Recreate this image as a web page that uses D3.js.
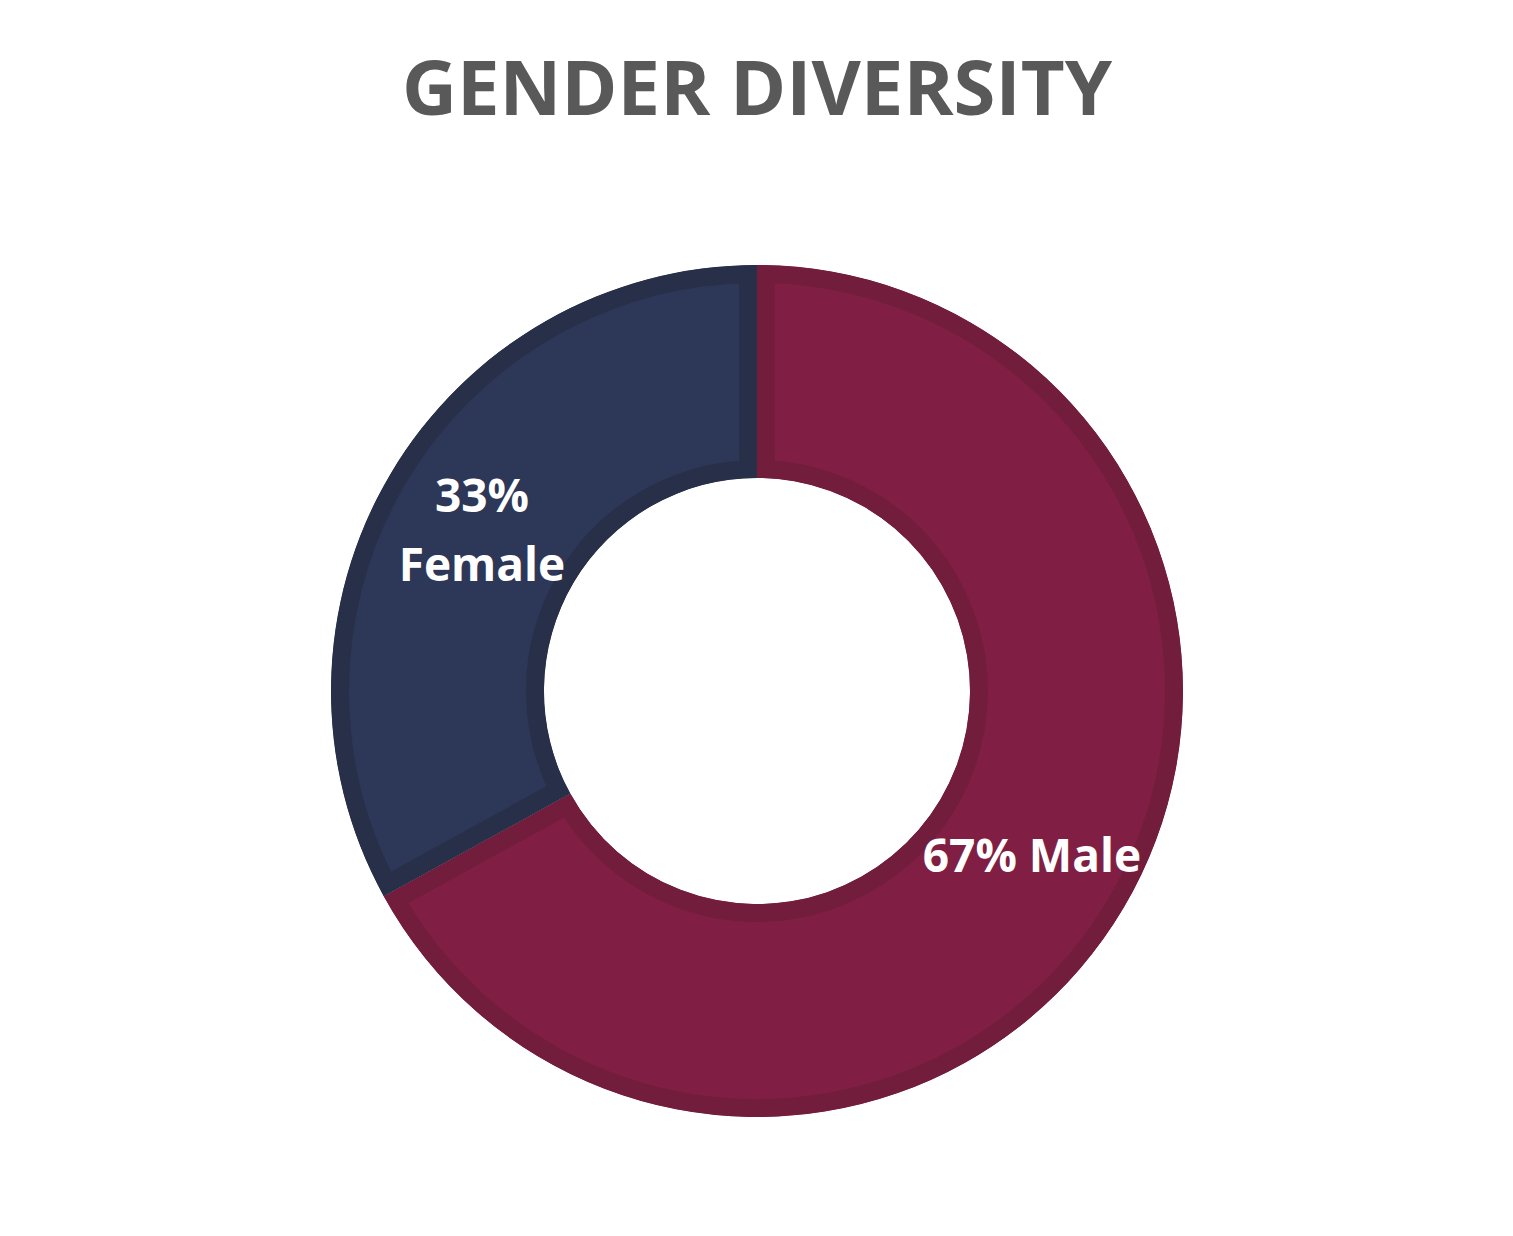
<!DOCTYPE html>
<html>
<head>
<meta charset="utf-8">
<script src="https://cdn.jsdelivr.net/npm/d3@7"></script>
<style>
  html, body { margin: 0; padding: 0; background: #fff; }
  svg { display: block; }
</style>
</head>
<body>
<svg id="chart" width="1513" height="1236"></svg>
<script>
const title = "GENDER DIVERSITY";
const categories = ["Male", "Female"];
const values = [67, 33];
const labelLines = [["67% Male"], ["33%", "Female"]];

const fills = { Male: "#801f43", Female: "#2d3757" };
const borders = { Male: "#731d3c", Female: "#283049" };

const width = 1513, height = 1236;
const cx = 757, cy = 691;
const outerR = 426, innerR = 213;
const borderW = 18;

const svg = d3.select("#chart");

svg.append("text")
  .attr("x", 757)
  .attr("y", 115)
  .attr("text-anchor", "middle")
  .style("font-family", "'Open Sans', sans-serif")
  .style("font-weight", 700)
  .style("font-size", "76px")
  .style("fill", "#595959")
  .text(title);

const data = categories.map((c, i) => ({ name: c, value: values[i], lines: labelLines[i] }));

const pie = d3.pie().sort(null).value((d) => d.value);
const arc = d3.arc().innerRadius(innerR).outerRadius(outerR);
const arcs = pie(data);

// clip each slice to itself so the darker border sits inside the edge
const defs = svg.append("defs");
defs.selectAll("clipPath")
  .data(arcs)
  .join("clipPath")
  .attr("id", (d, i) => `clip_${i}`)
  .append("path")
  .attr("d", arc);

const g = svg.append("g").attr("transform", `translate(${cx},${cy})`);

g.selectAll("path.slice")
  .data(arcs)
  .join("path")
  .attr("class", "slice")
  .attr("d", arc)
  .attr("clip-path", (d, i) => `url(#clip_${i})`)
  .style("fill", (d) => fills[d.data.name])
  .style("stroke", (d) => borders[d.data.name])
  .style("stroke-width", borderW * 2);

const labels = g.selectAll("text.lbl")
  .data(arcs)
  .join("text")
  .attr("class", "lbl")
  .attr("text-anchor", "middle")
  .attr("transform", (d) => `translate(${arc.centroid(d)})`)
  .style("font-family", "'Open Sans', sans-serif")
  .style("font-weight", 700)
  .style("font-size", "46px")
  .style("fill", "#ffffff");

labels.each(function (d) {
  const n = d.data.lines.length;
  const lh = 69;
  d3.select(this).selectAll("tspan")
    .data(d.data.lines)
    .join("tspan")
    .attr("x", 0)
    .attr("y", (l, j) => (j - (n - 1) / 2) * lh + 18)
    .text((l) => l);
});
</script>
</body>
</html>
